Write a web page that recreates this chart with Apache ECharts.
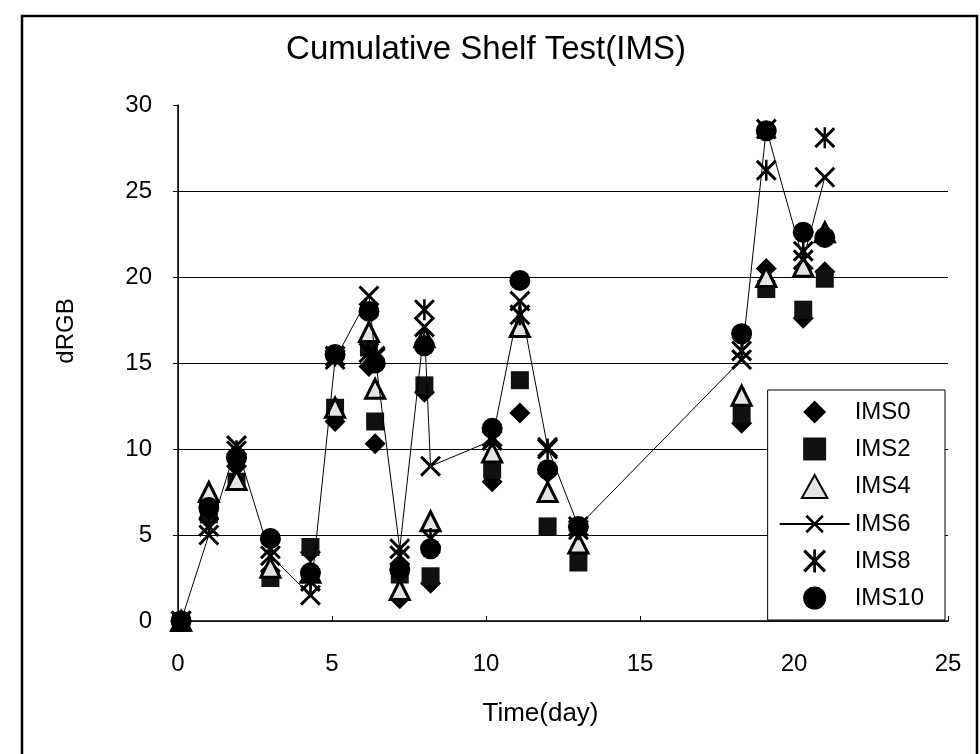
<!DOCTYPE html>
<html>
<head>
<meta charset="utf-8">
<script src="https://cdn.jsdelivr.net/npm/echarts@6/dist/echarts.min.js"></script>
<style>
  html, body { margin: 0; padding: 0; background: #fff; }
  #chart { width: 980px; height: 754px; }
</style>
</head>
<body>
<div id="chart"></div>
<script>
// measurement times (day)
var times = [0.1, 1.0, 1.9, 3.0, 4.3, 5.1, 6.2, 6.4, 7.2, 8.0, 8.2, 10.2, 11.1, 12.0, 13.0, 18.3, 19.1, 20.3, 21.0];

// dRGB per sample
var ims0  = [0, 5.9, 9.0, 2.9, 4.0, 11.6, 14.8, 10.3, 1.3, 13.3, 2.2, 8.1, 12.1, 8.6, 4.0, 11.5, 20.5, 17.6, 20.3];
var ims2  = [0, 6.2, 8.1, 2.5, 4.3, 12.4, 15.9, 11.6, 2.7, 13.7, 2.6, 8.8, 14.0, 5.5, 3.4, 12.0, 19.3, 18.1, 19.9];
var ims4  = [0, 7.5, 8.2, 3.1, 2.8, 12.4, 16.8, 13.5, 1.8, 16.5, 5.8, 9.8, 17.1, 7.5, 4.5, 13.1, 20.0, 20.6, 22.6];
var ims6  = [0, 5.0, 10.2, 3.8, 1.5, 15.2, 18.9, 15.4, 4.2, 17.1, 9.0, 10.5, 18.6, 10.1, 5.5, 15.2, 28.6, 21.0, 25.8];
var ims8  = [0, 5.5, 9.9, 4.2, 2.3, 15.4, 15.6, 15.3, 3.8, 18.1, 4.8, 10.7, 17.8, 10.0, 5.3, 15.7, 26.2, 21.5, 28.1];
var ims10 = [0, 6.6, 9.5, 4.8, 2.8, 15.5, 18.0, 15.0, 3.0, 16.0, 4.2, 11.2, 19.8, 8.8, 5.5, 16.7, 28.5, 22.6, 22.3];

var names = ['IMS0', 'IMS2', 'IMS4', 'IMS6', 'IMS8', 'IMS10'];

// path symbols keep their aspect in the legend
var diamondPath = 'path://M5,0 L10,5 L5,10 L0,5 Z';
var squarePath = 'path://M0,0 L10,0 L10,10 L0,10 Z';
var trianglePath = 'path://M5,0 L10,9 L0,9 Z';
var crossPath = 'path://M0,1 L1,0 L5,4 L9,0 L10,1 L6,5 L10,9 L9,10 L5,6 L1,10 L0,9 L4,5 Z';
var starPath = 'path://M0,1 L1,0 L5,4 L9,0 L10,1 L6,5 L10,9 L9,10 L5,6 L1,10 L0,9 L4,5 Z M4.4,0 L5.6,0 L5.6,10 L4.4,10 Z';

function pairs(ys) {
    return times.map(function (t, i) { return [t, ys[i]]; });
}

var font = 'Arial, "Liberation Sans", sans-serif';

var chart = echarts.init(document.getElementById('chart'));
var option = {
    animation: false,
    backgroundColor: '#fff',
    title: {
        text: 'Cumulative Shelf Test(IMS)',
        left: 481,
        top: 28,
        textAlign: 'center',
        textStyle: { fontFamily: font, fontSize: 33, fontWeight: 'normal', color: '#000' }
    },
    graphic: [
        {
            type: 'rect',
            shape: { x: 22, y: 16, width: 955, height: 760 },
            style: { fill: 'none', stroke: '#000', lineWidth: 2.5 },
            silent: true
        }
    ],
    grid: { left: 178, right: 32, top: 105, bottom: 133 },
    legend: {
        orient: 'vertical',
        right: 35,
        bottom: 134,
        data: names,
        itemWidth: 70,
        itemHeight: 23,
        itemGap: 13,
        padding: [10, 21, 10, 11],
        borderColor: '#000',
        borderWidth: 1,
        backgroundColor: '#fff',
        textStyle: { fontFamily: font, fontSize: 24, color: '#000' }
    },
    xAxis: [
        {
            type: 'value',
            min: 0,
            max: 25,
            interval: 5,
            name: 'Time(day)',
            nameLocation: 'middle',
            nameGap: 80,
            nameTextStyle: { fontFamily: font, fontSize: 26, color: '#000', padding: [0, 45, 0, 0] },
            axisLine: { lineStyle: { color: '#000', width: 1.5 } },
            axisTick: { inside: true, length: 5, lineStyle: { color: '#000' } },
            axisLabel: { margin: 31, fontFamily: font, fontSize: 24, color: '#000' },
            splitLine: { show: false }
        },
        {
            type: 'value',
            position: 'top',
            min: 0,
            max: 25,
            interval: 5,
            axisLine: { lineStyle: { color: '#000', width: 1, type: 'dotted' } },
            axisTick: { show: false },
            axisLabel: { show: false },
            splitLine: { show: false }
        }
    ],
    yAxis: [
        {
            type: 'value',
            min: 0,
            max: 30,
            interval: 5,
            name: 'dRGB',
            nameLocation: 'middle',
            nameGap: 100,
            nameTextStyle: { fontFamily: font, fontSize: 24, color: '#000', padding: [0, 0, 0, 64] },
            axisLine: { show: true, lineStyle: { color: '#000', width: 1.5 } },
            axisTick: { show: true, length: 5, lineStyle: { color: '#000' } },
            axisLabel: { margin: 26, fontFamily: font, fontSize: 24, color: '#000' },
            splitLine: { show: true, showMinLine: false, showMaxLine: false, lineStyle: { color: '#000', width: 1 } }
        },
        {
            type: 'value',
            position: 'right',
            min: 0,
            max: 30,
            interval: 5,
            axisLine: { show: true, lineStyle: { color: '#000', width: 1, type: 'dotted' } },
            axisTick: { show: false },
            axisLabel: { show: false },
            splitLine: { show: false }
        }
    ],
    series: [
        {
            name: 'IMS0', type: 'scatter', data: pairs(ims0),
            symbol: diamondPath, symbolSize: 21,
            itemStyle: { color: '#000', opacity: 1 }
        },
        {
            name: 'IMS2', type: 'scatter', data: pairs(ims2),
            symbol: squarePath, symbolSize: 18,
            itemStyle: { color: '#111', opacity: 1 }
        },
        {
            name: 'IMS4', type: 'scatter', data: pairs(ims4),
            symbol: trianglePath, symbolSize: 19,
            itemStyle: { color: '#e4e4e4', borderColor: '#000', borderWidth: 3, opacity: 1 }
        },
        {
            name: 'IMS6', type: 'line', data: pairs(ims6),
            symbol: crossPath, symbolSize: 21, showAllSymbol: true,
            itemStyle: { color: '#000', opacity: 1 },
            lineStyle: { color: '#000', width: 1 }
        },
        {
            name: 'IMS8', type: 'scatter', data: pairs(ims8),
            symbol: starPath, symbolSize: 21,
            itemStyle: { color: '#000', opacity: 1 }
        },
        {
            name: 'IMS10', type: 'scatter', data: pairs(ims10),
            symbol: 'circle', symbolSize: 21,
            itemStyle: { color: '#000', opacity: 1 }
        }
    ]
};
chart.setOption(option);
</script>
</body>
</html>
